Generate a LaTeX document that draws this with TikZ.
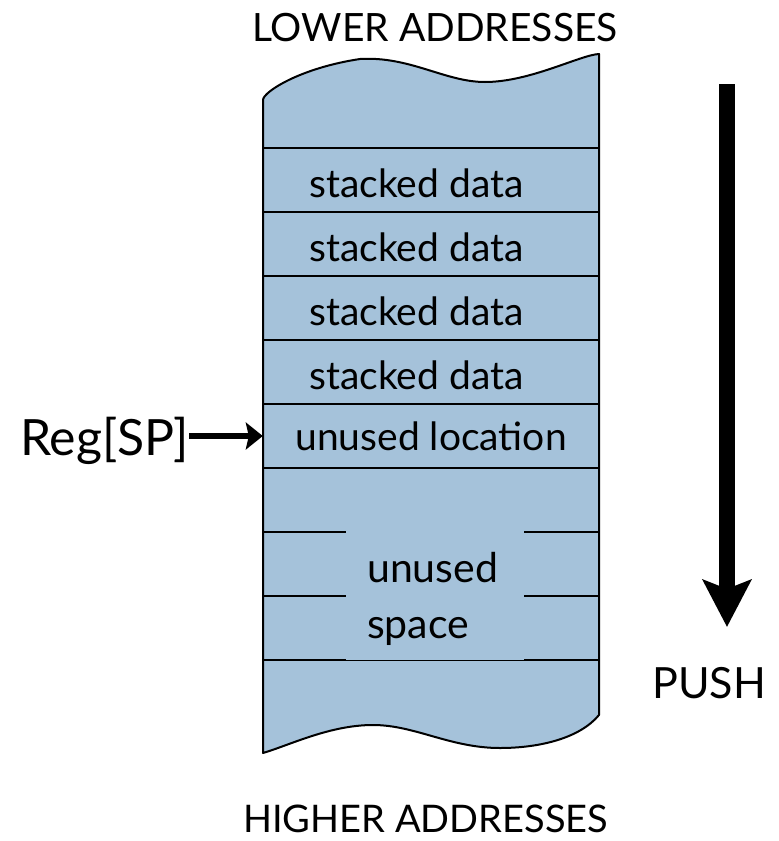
\documentclass[tikz,border=0pt]{standalone}
\usepackage{fontspec}
\setmainfont{Lato}
\usetikzlibrary{arrows.meta}
\definecolor{stackblue}{RGB}{165,194,218}
\begin{document}
\begin{tikzpicture}[x=1pt,y=-1pt,
  rowtext/.style={anchor=base west,inner sep=0pt,font=\fontsize{39}{44}\selectfont},
  unusedtext/.style={anchor=base west,inner sep=0pt,font=\fontsize{41}{46}\selectfont},
  captext/.style={anchor=base west,inner sep=0pt,font=\fontsize{39}{44}\selectfont},
  rowline/.style={line width=2pt},
  thinline/.style={line width=1pt}]
\useasboundingbox (0,0) rectangle (779,841);
% stack body
\draw[line width=2pt,fill=stackblue,line join=round]
  (263,100) .. controls (263,92) and (300,68) .. (360,59)
  .. controls (410,56) and (445,82) .. (485,82)
  .. controls (530,82) and (580,55) .. (599,54)
  -- (599,715)
  .. controls (580,738) and (540,748) .. (500,748)
  .. controls (450,748) and (415,725) .. (373,725)
  .. controls (330,725) and (290,745) .. (263,753)
  -- cycle;
% row separators
\foreach \yy in {148,212,276,340,404,468} \draw[rowline] (263,\yy) -- (599,\yy);
\foreach \yy in {532,596,660} {
  \draw[rowline] (263,\yy) -- (346,\yy);
  \draw[rowline] (524,\yy) -- (599,\yy);
}
\draw[thinline] (346,660) -- (524,660);
% row texts
\node[rowtext] (s1) at (309,197) {stacked data};
\node[rowtext] (s2) at (309,261) {stacked data};
\node[rowtext] (s3) at (309,325) {stacked data};
\node[rowtext] (s4) at (309,389) {stacked data};
\node[draw=none,minimum width=336pt,minimum height=64pt,inner sep=0pt,
  font=\fontsize{39}{44}\selectfont] (loc) at (431,436) {unused location};
\node[unusedtext] (u1) at (367,582) {unused};
\node[unusedtext] (u2) at (367,638) {space};
% labels
\node[captext] (lower) at (252,41) {LOWER ADDRESSES};
\node[anchor=base west,inner sep=0pt,font=\fontsize{38}{42}\selectfont] (higher) at (243,832) {HIGHER ADDRESSES};
\node[anchor=base west,inner sep=0pt,font=\fontsize{43}{48}\selectfont] (push) at (652,698) {PUSH};
\node[anchor=base west,inner sep=0pt,font=\fontsize{50}{56}\selectfont] (reg) at (20,455) {Reg[SP]};
% arrows
\draw[line width=6pt,-{Stealth[length=17pt,width=27pt,inset=3pt]}] (reg.east |- loc.west) -- (loc.west);
\coordinate (ptop) at (727,84);
\coordinate (pend) at (727,627);
\draw[line width=16pt,-{Stealth[length=47pt,width=48pt,inset=9pt]}] (ptop) -- (pend);
\end{tikzpicture}
\end{document}
